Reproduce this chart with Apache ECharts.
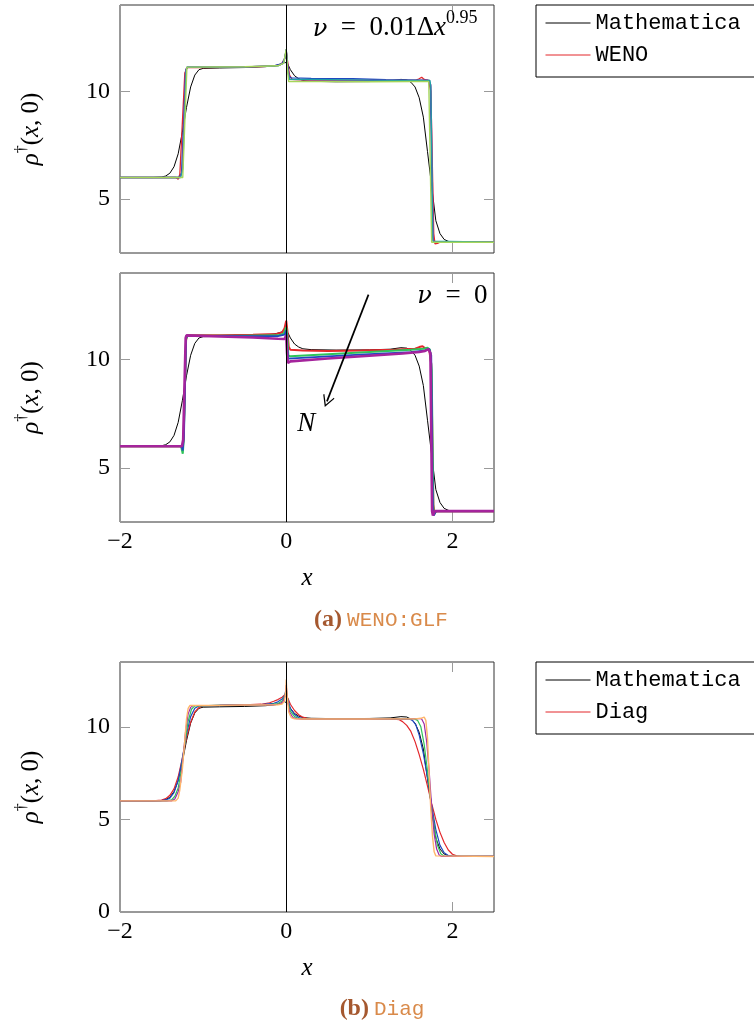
<!DOCTYPE html>
<html>
<head>
<meta charset="utf-8">
<script src="https://cdn.jsdelivr.net/npm/echarts@6/dist/echarts.min.js"></script>
<style>
  html, body { margin: 0; padding: 0; background: #fff; }
  #chart { width: 754px; height: 1022px; }
</style>
</head>
<body>
<div id="chart"></div>
<script>
// ---- tick values ----
const xTicks = [-2, 0, 2];
const yTicksWeno = [5, 10];
const yTicksDiag = [0, 5, 10];

// ---- reference profile rho(x, 0) from Mathematica ----
const mathematica = [
  [-2, 6.0], [-1.6, 6.0], [-1.5, 6.02], [-1.45, 6.07], [-1.4, 6.2], [-1.35, 6.5], [-1.3, 7.1],
  [-1.25, 8.1], [-1.2, 9.25], [-1.15, 10.2], [-1.1, 10.75], [-1.05, 11.0], [-1.0, 11.06],
  [-0.8, 11.08], [-0.5, 11.1], [-0.25, 11.14], [-0.12, 11.2], [-0.06, 11.27], [-0.02, 11.36],
  [0, 11.4], [0.02, 11.25], [0.05, 11.0], [0.1, 10.72], [0.15, 10.58], [0.2, 10.5], [0.3, 10.46],
  [0.6, 10.44], [1.0, 10.45], [1.25, 10.48], [1.38, 10.55], [1.45, 10.53], [1.5, 10.42],
  [1.55, 10.2], [1.6, 9.7], [1.65, 8.8], [1.7, 7.2], [1.75, 5.6], [1.8, 4.0], [1.85, 3.4],
  [1.9, 3.13], [1.95, 3.04], [2.0, 3.01], [2.1, 3.0], [2.5, 3.0]
];

// ---- WENO:GLF, nu = 0.01 dx^0.95 ----
const wenoVisc1 = [
  [-2, 6.0], [-1.33, 6.0], [-1.3, 5.92], [-1.28, 6.15], [-1.22, 10.85], [-1.19, 11.1], [-1.0, 11.1],
  [-0.5, 11.12], [-0.15, 11.17], [-0.06, 11.25], [-0.02, 11.5], [0, 11.85], [0.02, 11.3],
  [0.04, 10.75], [0.07, 10.55], [0.3, 10.52], [0.8, 10.5], [1.3, 10.5], [1.55, 10.5], [1.6, 10.58],
  [1.63, 10.65], [1.66, 10.55], [1.71, 10.5], [1.74, 10.0], [1.775, 3.4], [1.79, 2.92], [1.82, 2.95],
  [1.85, 3.0], [2.5, 3.0]
];
const wenoVisc2 = [
  [-2, 6.0], [-1.29, 6.0], [-1.26, 6.2], [-1.21, 10.95], [-1.19, 11.12], [-0.5, 11.13],
  [-0.15, 11.18], [-0.05, 11.28], [-0.015, 11.55], [0, 11.95], [0.015, 11.3], [0.035, 10.7],
  [0.06, 10.62], [0.3, 10.6], [0.8, 10.58], [1.2, 10.54], [1.6, 10.52], [1.72, 10.5], [1.735, 10.2],
  [1.76, 3.3], [1.775, 3.0], [2.5, 3.0]
];
const wenoVisc3 = [
  [-2, 6.0], [-1.28, 6.0], [-1.25, 6.3], [-1.21, 11.0], [-1.19, 11.12], [-0.5, 11.13], [-0.1, 11.19],
  [-0.03, 11.3], [0, 11.9], [0.02, 11.0], [0.04, 10.55], [0.3, 10.52], [1.0, 10.5], [1.6, 10.5],
  [1.7, 10.52], [1.74, 10.3], [1.77, 3.1], [1.785, 3.0], [2.5, 3.0]
];
const wenoVisc4 = [
  [-2, 6.0], [-1.27, 6.0], [-1.245, 6.4], [-1.205, 11.0], [-1.19, 11.12], [-0.5, 11.13],
  [-0.1, 11.18], [-0.03, 11.3], [0, 11.92], [0.02, 10.9], [0.04, 10.55], [0.3, 10.55], [1.0, 10.52],
  [1.6, 10.5], [1.73, 10.5], [1.74, 10.2], [1.765, 3.05], [2.5, 3.0]
];
const wenoVisc5 = [
  [-2, 6.0], [-1.245, 6.0], [-1.195, 11.12], [-0.5, 11.14], [-0.1, 11.18], [-0.03, 11.3], [0, 11.95],
  [0.015, 11.0], [0.03, 10.45], [0.5, 10.45], [1.0, 10.44], [1.5, 10.45], [1.715, 10.45],
  [1.75, 3.0], [2.5, 3.0]
];

// ---- WENO:GLF, nu = 0, increasing N ----
const wenoNoVisc1 = [
  [-2, 6.0], [-1.27, 6.0], [-1.25, 5.9], [-1.235, 6.3], [-1.205, 10.9], [-1.19, 11.12], [-0.8, 11.13],
  [-0.4, 11.15], [-0.12, 11.18], [-0.05, 11.25], [-0.02, 11.45], [0, 11.8], [0.015, 11.3],
  [0.03, 10.6], [0.05, 10.45], [0.2, 10.42], [0.5, 10.4], [0.9, 10.42], [1.3, 10.45], [1.55, 10.5],
  [1.6, 10.58], [1.64, 10.62], [1.68, 10.5], [1.72, 10.45], [1.745, 9.8], [1.77, 3.3], [1.785, 2.9],
  [1.81, 3.0], [2.5, 3.0]
];
const wenoNoVisc2 = [
  [-2, 6.0], [-1.265, 6.0], [-1.245, 5.65], [-1.235, 6.2], [-1.205, 10.95], [-1.19, 11.1],
  [-0.5, 11.1], [-0.1, 11.12], [-0.03, 11.2], [0, 11.5], [0.015, 11.0], [0.025, 10.2], [0.05, 10.15],
  [0.5, 10.25], [1.0, 10.35], [1.5, 10.45], [1.65, 10.5], [1.7, 10.55], [1.73, 10.45], [1.75, 9.5],
  [1.77, 3.2], [1.78, 2.85], [1.8, 3.0], [2.5, 3.0]
];
const wenoNoVisc3 = [
  [-2, 6.0], [-1.26, 6.0], [-1.245, 5.8], [-1.23, 6.5], [-1.205, 11.0], [-1.19, 11.1], [-0.5, 11.08],
  [-0.1, 11.08], [-0.02, 11.15], [0, 11.35], [0.015, 10.5], [0.025, 10.05], [0.5, 10.15],
  [1.0, 10.25], [1.5, 10.35], [1.68, 10.42], [1.72, 10.5], [1.745, 10.2], [1.765, 3.0],
  [1.775, 2.8], [1.8, 3.0], [2.5, 3.0]
];
const wenoNoVisc4 = [
  [-2, 6.0], [-1.255, 6.0], [-1.24, 6.3], [-1.21, 11.0], [-1.2, 11.12], [-0.8, 11.07], [-0.4, 11.02],
  [-0.1, 10.96], [-0.02, 10.95], [0, 11.12], [0.01, 10.3], [0.02, 9.85], [0.05, 9.92], [0.5, 10.05],
  [1.0, 10.18], [1.4, 10.28], [1.6, 10.35], [1.67, 10.4], [1.71, 10.48], [1.735, 10.3],
  [1.755, 3.0], [1.765, 2.8], [1.785, 3.0], [2.5, 3.0]
];

// ---- Diag, increasing resolution ----
const diag1 = [
  [-2, 6.0], [-1.6, 6.0], [-1.5, 6.04], [-1.45, 6.12], [-1.4, 6.3], [-1.35, 6.65], [-1.3, 7.3],
  [-1.25, 8.3], [-1.2, 9.4], [-1.15, 10.25], [-1.1, 10.8], [-1.05, 11.05], [-1.0, 11.13],
  [-0.8, 11.16], [-0.5, 11.18], [-0.3, 11.22], [-0.2, 11.3], [-0.15, 11.38], [-0.1, 11.47],
  [-0.05, 11.6], [-0.02, 11.72], [0, 11.8], [0.02, 11.55], [0.05, 11.22], [0.1, 10.88],
  [0.15, 10.65], [0.2, 10.52], [0.25, 10.46], [0.35, 10.42], [1.0, 10.42], [1.3, 10.42],
  [1.36, 10.38], [1.4, 10.28], [1.45, 10.08], [1.5, 9.75], [1.55, 9.2], [1.6, 8.5], [1.65, 7.7],
  [1.7, 6.8], [1.75, 5.85], [1.8, 5.0], [1.85, 4.3], [1.9, 3.75], [1.95, 3.35], [2.0, 3.12],
  [2.05, 3.03], [2.1, 3.0], [2.5, 3.0]
];
const diag2 = [
  [-2, 6.0], [-1.52, 6.0], [-1.45, 6.05], [-1.4, 6.15], [-1.35, 6.45], [-1.3, 7.1], [-1.25, 8.3],
  [-1.2, 9.6], [-1.15, 10.55], [-1.1, 11.0], [-1.05, 11.13], [-0.8, 11.16], [-0.5, 11.18],
  [-0.3, 11.2], [-0.15, 11.27], [-0.1, 11.35], [-0.05, 11.5], [-0.02, 11.68], [0, 11.9],
  [0.02, 11.45], [0.05, 11.0], [0.1, 10.66], [0.15, 10.5], [0.2, 10.44], [0.3, 10.42], [1.0, 10.42],
  [1.4, 10.43], [1.48, 10.42], [1.52, 10.35], [1.56, 10.1], [1.6, 9.55], [1.65, 8.55], [1.7, 7.25],
  [1.75, 5.75], [1.8, 4.45], [1.85, 3.6], [1.9, 3.2], [1.95, 3.05], [2.0, 3.0], [2.5, 3.0]
];
const diag3 = [
  [-2, 6.0], [-1.44, 6.0], [-1.38, 6.05], [-1.34, 6.25], [-1.3, 6.7], [-1.26, 7.7], [-1.22, 9.1],
  [-1.18, 10.3], [-1.14, 10.95], [-1.1, 11.13], [-0.8, 11.16], [-0.5, 11.18], [-0.2, 11.2],
  [-0.1, 11.26], [-0.05, 11.4], [-0.02, 11.65], [0, 12.05], [0.02, 11.4], [0.05, 10.85],
  [0.1, 10.55], [0.15, 10.45], [0.25, 10.42], [1.0, 10.42], [1.45, 10.43], [1.54, 10.43],
  [1.58, 10.35], [1.62, 10.0], [1.66, 9.05], [1.7, 7.6], [1.74, 6.0], [1.78, 4.6], [1.82, 3.6],
  [1.86, 3.15], [1.9, 3.02], [1.93, 3.0], [2.5, 3.0]
];
const diag4 = [
  [-2, 6.0], [-1.38, 6.0], [-1.34, 6.1], [-1.3, 6.5], [-1.27, 7.0], [-1.24, 8.4], [-1.21, 9.8],
  [-1.18, 10.7], [-1.15, 11.05], [-1.12, 11.15], [-0.8, 11.16], [-0.5, 11.18], [-0.15, 11.19],
  [-0.08, 11.23], [-0.04, 11.35], [-0.015, 11.65], [0, 12.25], [0.015, 11.5], [0.04, 10.8],
  [0.08, 10.5], [0.12, 10.44], [0.2, 10.42], [1.0, 10.42], [1.5, 10.43], [1.6, 10.45], [1.63, 10.42],
  [1.66, 10.15], [1.69, 9.2], [1.72, 7.6], [1.75, 5.7], [1.78, 4.2], [1.81, 3.4], [1.84, 3.08],
  [1.87, 3.0], [2.5, 3.0]
];
const diag5 = [
  [-2, 6.0], [-1.33, 6.0], [-1.3, 6.15], [-1.28, 6.6], [-1.25, 7.7], [-1.22, 9.3], [-1.2, 10.4],
  [-1.18, 11.0], [-1.16, 11.15], [-0.8, 11.16], [-0.5, 11.18], [-0.1, 11.19], [-0.05, 11.23],
  [-0.02, 11.4], [-0.005, 11.9], [0, 12.55], [0.01, 11.7], [0.03, 10.8], [0.06, 10.5], [0.1, 10.43],
  [0.2, 10.42], [1.0, 10.42], [1.55, 10.43], [1.62, 10.46], [1.66, 10.52], [1.68, 10.35],
  [1.7, 9.4], [1.72, 7.4], [1.74, 5.5], [1.76, 4.1], [1.78, 3.25], [1.8, 3.03], [1.82, 3.0], [2.5, 3.0]
];

// ---- annotation anchors (data coordinates) ----
const arrowN = [[0.99, 13.0], [0.49, 8.07]];
const labelN = [0.24, 7.13];
const labelViscous = [1.31, 13.05];
const labelInviscid = [2.0, 13.08];

// ---- styling ----
const SERIF = 'Liberation Serif';
const GREEK = 'DejaVu Serif';
const MONO = 'Liberation Mono';
const C = {
  black: '#000000', red: '#e3262b', blue: '#1f48c0', green: '#2fc45a', purple: '#9c2aa6',
  teal: '#1e9ea6', lime: '#a6d65a', magenta: '#a5249c', orange: '#ffb56b'
};
const fmtNum = v => (v < 0 ? '\u2212' + (-v) : String(v));
const EN = '\u2002';

const grids = [
  { left: 120, top: 5, width: 374, height: 248 },
  { left: 120, top: 273, width: 374, height: 249 },
  { left: 120, top: 662, width: 374, height: 250 }
].map(g => Object.assign({ show: true, borderColor: '#333', borderWidth: 1, backgroundColor: 'transparent', containLabel: false }, g));

const tickStyle = { show: true, inside: true, length: 10, lineStyle: { color: '#9a9a9a', width: 1 } };

function xAxisFor(gi, position, withLabels) {
  return {
    type: 'value', gridIndex: gi, position: position, min: -2, max: 2.5,
    axisLine: { show: false, onZero: false }, splitLine: { show: false },
    axisTick: Object.assign({ customValues: xTicks }, tickStyle),
    axisLabel: {
      show: withLabels, customValues: xTicks, margin: 8, formatter: fmtNum,
      color: '#000', fontFamily: SERIF, fontSize: 24
    },
    name: withLabels ? 'x' : '', nameLocation: 'middle', nameGap: 44,
    nameTextStyle: { color: '#000', fontFamily: SERIF, fontStyle: 'italic', fontSize: 25 }
  };
}
const yNameRich = {
  i: { fontFamily: SERIF, fontStyle: 'italic', fontSize: 25, color: '#000', verticalAlign: 'bottom', lineHeight: 30 },
  r: { fontFamily: SERIF, fontSize: 25, color: '#000', verticalAlign: 'bottom', lineHeight: 30 },
  s: { fontFamily: SERIF, fontSize: 16, color: '#000', verticalAlign: 'top', lineHeight: 16 }
};
function yAxisFor(gi, position, ticks, min, max, withLabels) {
  return {
    type: 'value', gridIndex: gi, position: position, min: min, max: max,
    axisLine: { show: false, onZero: false }, splitLine: { show: false },
    axisTick: Object.assign({ customValues: ticks }, tickStyle),
    axisLabel: {
      show: withLabels, customValues: ticks, margin: 10, formatter: fmtNum,
      color: '#000', fontFamily: SERIF, fontSize: 24
    },
    name: withLabels ? '{i|\u03C1}{s|\u2020}{r|(}{i|x}{r|, 0)}' : '',
    nameLocation: 'middle', nameRotate: 90, nameGap: 76,
    nameTextStyle: { rich: yNameRich }
  };
}

const xAxes = [
  xAxisFor(0, 'bottom', false), xAxisFor(1, 'bottom', true), xAxisFor(2, 'bottom', true),
  xAxisFor(0, 'top', false), xAxisFor(1, 'top', false), xAxisFor(2, 'top', false)
];
const yAxes = [
  yAxisFor(0, 'left', yTicksWeno, 2.5, 14, true),
  yAxisFor(1, 'left', yTicksWeno, 2.5, 14, true),
  yAxisFor(2, 'left', yTicksDiag, 0, 13.5, true),
  yAxisFor(0, 'right', yTicksWeno, 2.5, 14, false),
  yAxisFor(1, 'right', yTicksWeno, 2.5, 14, false),
  yAxisFor(2, 'right', yTicksDiag, 0, 13.5, false)
];

function line(name, data, color, width, gi, extra) {
  return Object.assign({
    type: 'line', name: name, data: data, xAxisIndex: gi, yAxisIndex: gi,
    symbol: 'none', showSymbol: false, silent: true, animation: false,
    lineStyle: { color: color, width: width }, itemStyle: { color: color }
  }, extra || {});
}
// vertical line at x = 0 in each panel
const zeroLine = {
  silent: true, animation: false, symbol: ['none', 'none'],
  lineStyle: { color: '#000', width: 1, type: 'solid' }, label: { show: false },
  data: [{ xAxis: 0 }]
};
function textMark(coord, text, rich) {
  return {
    silent: true, animation: false, symbol: 'circle', symbolSize: 1,
    itemStyle: { color: 'rgba(0,0,0,0)' },
    label: { show: true, position: 'inside', formatter: text, rich: rich },
    data: [{ coord: coord }]
  };
}
const annRich = {
  g: { fontFamily: GREEK, fontStyle: 'italic', fontSize: 24, color: '#000', verticalAlign: 'bottom', lineHeight: 32 },
  i: { fontFamily: SERIF, fontStyle: 'italic', fontSize: 27, color: '#000', verticalAlign: 'bottom', lineHeight: 32 },
  r: { fontFamily: SERIF, fontSize: 27, color: '#000', verticalAlign: 'bottom', lineHeight: 32 },
  s: { fontFamily: SERIF, fontSize: 18, color: '#000', verticalAlign: 'top', lineHeight: 18 }
};

const series = [
  // panel (a), viscous
  line('Mathematica', mathematica, C.black, 1, 0, {
    markLine: zeroLine,
    markPoint: textMark(labelViscous, '{g|\u03BD}{r|' + EN + '=' + EN + '0.01\u0394}{i|x}{s|0.95}', annRich)
  }),
  line('WENO', wenoVisc1, C.red, 1.3, 0),
  line('WENO 2', wenoVisc2, C.blue, 1.3, 0),
  line('WENO 3', wenoVisc3, C.purple, 1.3, 0),
  line('WENO 4', wenoVisc4, C.teal, 1.3, 0),
  line('WENO 5', wenoVisc5, C.lime, 1.4, 0),
  // panel (a), inviscid
  line('Mathematica', mathematica, C.black, 1, 1, {
    markLine: zeroLine,
    markPoint: textMark(labelInviscid, '{g|\u03BD}{r|' + EN + '=' + EN + '0}', annRich)
  }),
  line('WENO nu0 1', wenoNoVisc1, C.red, 2, 1, {
    markLine: {
      silent: true, animation: false,
      symbol: ['none', 'path://M0,0 L9,13 L7.6,14 L0,3.2 L-7.6,14 L-9,13 Z'], symbolSize: [12, 12],
      lineStyle: { color: '#000', width: 1.7, type: 'solid' }, label: { show: false },
      data: [[{ coord: arrowN[0] }, { coord: arrowN[1] }]]
    },
    markPoint: textMark(labelN, '{i|N}', annRich)
  }),
  line('WENO nu0 2', wenoNoVisc2, C.green, 2, 1),
  line('WENO nu0 3', wenoNoVisc3, C.blue, 1.8, 1),
  line('WENO nu0 4', wenoNoVisc4, C.magenta, 2.6, 1),
  // panel (b)
  line('Mathematica', mathematica, C.black, 1, 2, { markLine: zeroLine }),
  line('Diag', diag1, C.red, 1.2, 2),
  line('Diag 2', diag2, C.blue, 1.2, 2),
  line('Diag 3', diag3, C.green, 1.2, 2),
  line('Diag 4', diag4, C.purple, 1.2, 2),
  line('Diag 5', diag5, C.orange, 1.4, 2)
];

const legendBase = {
  orient: 'vertical', left: 536, itemWidth: 45, itemHeight: 14, itemGap: 10,
  padding: [7, 30, 11, 9], borderColor: '#000', borderWidth: 1, selectedMode: false,
  itemStyle: { opacity: 0 },
  lineStyle: { width: 1 },
  textStyle: { fontFamily: MONO, fontSize: 22, color: '#000' }
};

const captionRich = {
  b: { fontFamily: SERIF, fontWeight: 'bold', fontSize: 24, color: '#a5582f' },
  m: { fontFamily: MONO, fontWeight: 'normal', fontSize: 21, color: '#d98a4a' }
};

const chart = echarts.init(document.getElementById('chart'), null, { renderer: 'canvas' });
chart.setOption({
  animation: false,
  backgroundColor: '#fff',
  title: [
    { text: '{b|(a)} {m|WENO:GLF}', left: 376, top: 603, textAlign: 'center', textStyle: { rich: captionRich } },
    { text: '{b|(b)} {m|Diag}', left: 377, top: 992, textAlign: 'center', textStyle: { rich: captionRich } }
  ],
  legend: [
    Object.assign({ data: ['Mathematica', 'WENO'], top: 5 }, legendBase),
    Object.assign({ data: ['Mathematica', 'Diag'], top: 662 }, legendBase)
  ],
  grid: grids,
  xAxis: xAxes,
  yAxis: yAxes,
  series: series
});
</script>
</body>
</html>
